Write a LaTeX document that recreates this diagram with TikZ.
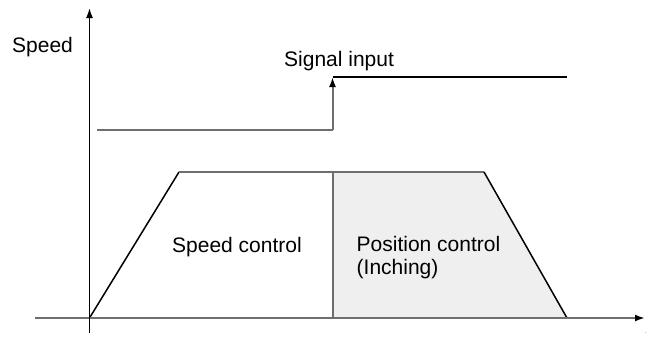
\documentclass[tikz,border=0pt]{standalone}
\usepackage{fontspec}
\setmainfont{Liberation Sans}
\usetikzlibrary{arrows.meta}
\definecolor{linegray}{HTML}{6E6E6E}
\definecolor{fillgray}{HTML}{EFEFEF}
\tikzset{
  axisline/.style={line width=1.6pt},
  grayline/.style={line width=2pt, draw=linegray},
  blackline/.style={line width=1.5pt},
  tip/.style={-{Latex[length=10pt,width=7pt,color=black]}},
  lbl/.style={anchor=base west, inner sep=0pt, font=\fontsize{21}{23}\selectfont}
}
\begin{document}
\begin{tikzpicture}[x=1pt,y=-1pt]
\useasboundingbox (0,0) rectangle (647,343);
% coordinates
\coordinate (yb) at (89.5,333);
\coordinate (yt) at (89.5,8);
\coordinate (xl) at (35,318);
\coordinate (xr) at (645,318);
\coordinate (o) at (89.5,318);
\coordinate (tl) at (179,172);
\coordinate (tm) at (333,172);
\coordinate (tr) at (484,172);
\coordinate (br) at (567,318);
\coordinate (bm) at (333,318);
\coordinate (s1) at (97,130);
\coordinate (s2) at (332.5,130);
\coordinate (s3) at (332.5,77);
\coordinate (s4) at (567,77);
% fill
\fill[fillgray] (tm) -- (tr) -- (br) -- (bm) -- cycle;
% trapezoid
\draw[blackline] (o) -- (tl);
\draw[grayline] (tl) -- (tr);
\draw[blackline] (tr) -- (br);
\draw[grayline] (tm) -- (bm);
% axes
\draw[grayline, tip] (xl) -- (xr);
\draw[axisline, tip] (yb) -- (yt);
% signal
\draw[grayline] (s1) -- (s2);
\draw[grayline, tip] (s2) -- (s3);
\draw[blackline] (s3) -- (s4);
% labels
\node[lbl] (speed) at (12,52) {Speed};
\node[lbl] (signal) at (284,66) {Signal input};
\node[lbl] (sc) at (172,252) {Speed control};
\node[lbl, align=left, anchor=north west] (pc) at (356.5,236) {Position control\\(Inching)};
\node[inner sep=0pt, font=\tiny] (dot) at (645.5,333) {.};
\end{tikzpicture}
\end{document}
